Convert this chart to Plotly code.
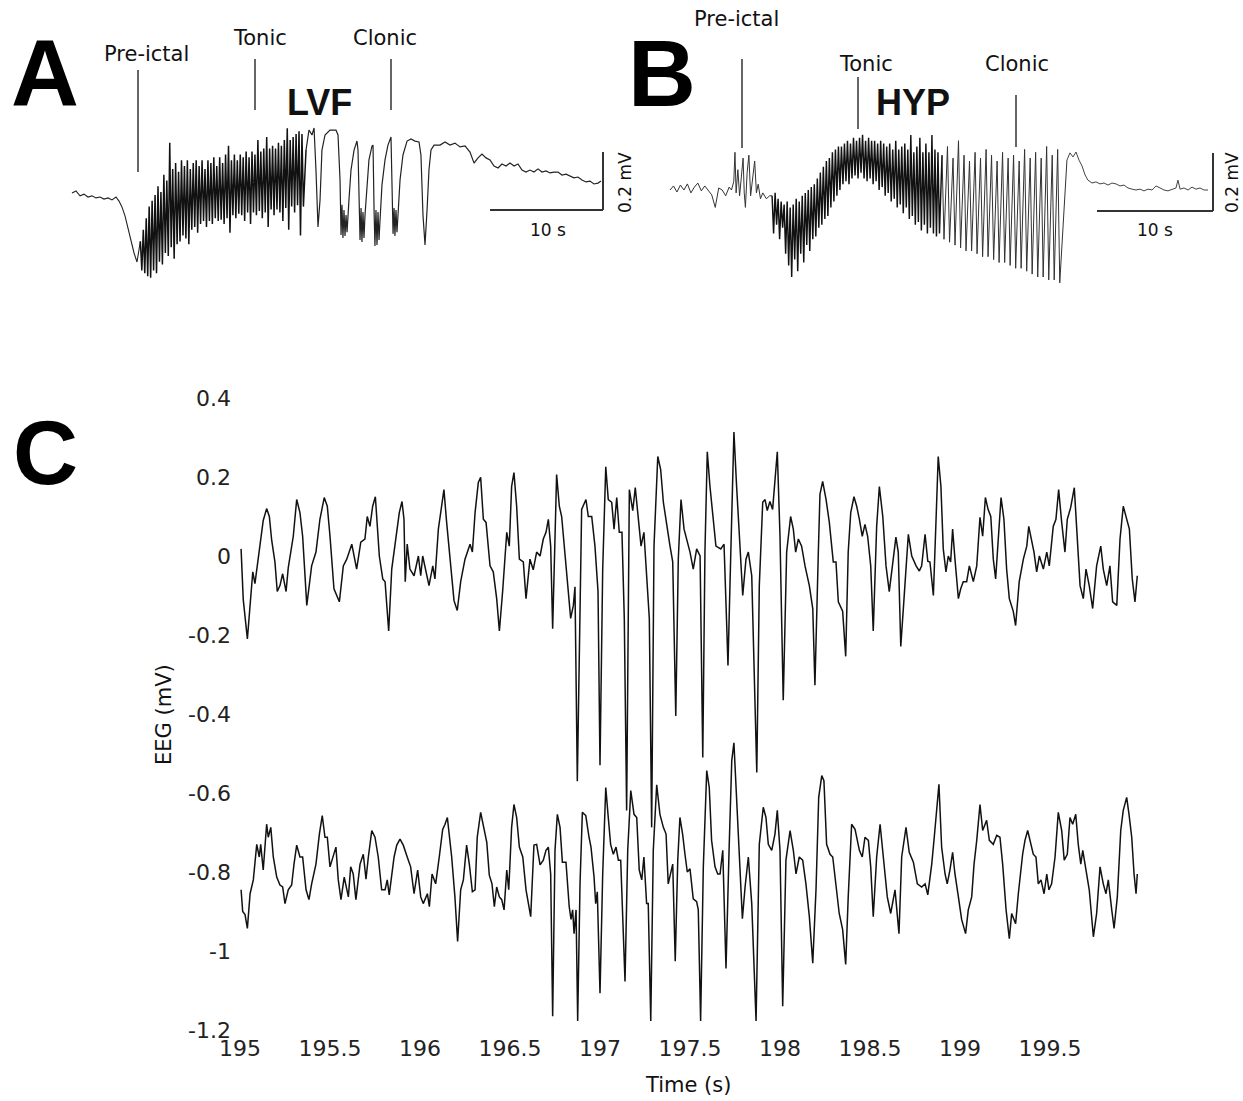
import plotly.graph_objects as go

W, H = 1243, 1101
T0 = 195.0

# ---------------- Panel C : EEG (mV) vs time (s), offsets from 195 s ----------------
top_t = [0.006, 0.018, 0.041, 0.071, 0.083, 0.107, 0.129, 0.148, 0.163, 0.176,
         0.194, 0.207, 0.222, 0.237, 0.256, 0.268, 0.296, 0.315, 0.333, 0.348,
         0.371, 0.398, 0.422, 0.444, 0.468, 0.485, 0.5, 0.522, 0.537, 0.552,
         0.574, 0.593, 0.621, 0.648, 0.671, 0.694, 0.707, 0.722, 0.737, 0.752,
         0.774, 0.793, 0.806, 0.826, 0.843, 0.871, 0.885, 0.9, 0.911, 0.918,
         0.929, 0.944, 0.967, 0.991, 1.004, 1.015, 1.037, 1.05, 1.071, 1.083,
         1.102, 1.121, 1.133, 1.148, 1.167, 1.189, 1.207, 1.226, 1.25, 1.278,
         1.291, 1.306, 1.324, 1.337, 1.352, 1.367, 1.389, 1.407, 1.426, 1.441,
         1.459, 1.482, 1.496, 1.509, 1.522, 1.537, 1.552, 1.574, 1.589, 1.611,
         1.629, 1.648, 1.667, 1.685, 1.7, 1.713, 1.726, 1.737, 1.759, 1.774,
         1.787, 1.802, 1.818, 1.837, 1.852, 1.861, 1.874, 1.898, 1.922, 1.935,
         1.954, 1.972, 1.989, 2.0, 2.015, 2.032, 2.046, 2.065, 2.078, 2.093,
         2.107, 2.122, 2.135, 2.148, 2.163, 2.182, 2.196, 2.213, 2.228, 2.244,
         2.259, 2.274, 2.287, 2.3, 2.321, 2.337, 2.352, 2.371, 2.389, 2.404,
         2.421, 2.435, 2.45, 2.467, 2.482, 2.5, 2.518, 2.537, 2.556, 2.571,
         2.583, 2.596, 2.611, 2.626, 2.644, 2.671, 2.689, 2.704, 2.711, 2.722,
         2.744, 2.759, 2.778, 2.793, 2.811, 2.824, 2.843, 2.856, 2.871, 2.885,
         2.904, 2.917, 2.929, 2.944, 2.959, 2.985, 3.0, 3.009, 3.018, 3.037,
         3.059, 3.074, 3.087, 3.102, 3.12, 3.139, 3.163, 3.182, 3.194, 3.213,
         3.222, 3.237, 3.256, 3.274, 3.296, 3.311, 3.324, 3.348, 3.365, 3.379,
         3.393, 3.411, 3.426, 3.441, 3.457, 3.472, 3.487, 3.504, 3.518, 3.537,
         3.552, 3.571, 3.589, 3.607, 3.62, 3.644, 3.657, 3.671, 3.689, 3.713,
         3.732, 3.756, 3.774, 3.787, 3.806, 3.821, 3.833, 3.852, 3.867, 3.879,
         3.894, 3.907, 3.922, 3.935, 3.948, 3.959, 3.972, 3.991, 4.004, 4.018,
         4.037, 4.052, 4.074, 4.093, 4.111, 4.126, 4.141, 4.156, 4.171, 4.185,
         4.198, 4.213, 4.228, 4.244, 4.259, 4.274, 4.296, 4.309, 4.329, 4.352,
         4.371, 4.382, 4.398, 4.411, 4.426, 4.441, 4.463, 4.482, 4.496, 4.518,
         4.533, 4.548, 4.565, 4.583, 4.596, 4.615, 4.635, 4.652, 4.667, 4.685,
         4.7, 4.718, 4.737, 4.759, 4.782, 4.796, 4.815, 4.833, 4.848, 4.871,
         4.889, 4.907, 4.926, 4.941, 4.957, 4.972, 4.985]
top_v = [0.018, -0.11, -0.21, -0.04, -0.07, 0.02, 0.09, 0.12, 0.10, 0.04,
         -0.015, -0.09, -0.075, -0.045, -0.09, -0.03, 0.05, 0.143, 0.11, 0.05,
         -0.125, -0.025, 0.01, 0.093, 0.148, 0.126, 0.05, -0.083, -0.1, -0.116,
         -0.025, -0.008, 0.03, -0.033, 0.035, 0.043, 0.10, 0.075, 0.126, 0.15,
         0.0, -0.058, -0.065, -0.19, -0.033, 0.068, 0.11, 0.138, 0.093, -0.065,
         0.03, -0.033, -0.05, 0.0, -0.05, 0.0, -0.05, -0.075, -0.025, -0.058,
         0.068, 0.126, 0.168, 0.085, -0.015, -0.113, -0.138, -0.065, -0.008, 0.03,
         0.01, 0.11, 0.186, 0.199, 0.093, 0.085, -0.025, -0.04, -0.108, -0.19,
         -0.09, 0.06, 0.025, 0.176, 0.211, 0.126, -0.008, -0.015, -0.108, -0.008,
         -0.035, 0.01, 0.0, 0.043, 0.06, 0.093, 0.025, -0.184, 0.206, 0.126,
         0.1, 0.018, -0.05, -0.158, -0.125, -0.078, -0.57, 0.118, 0.143, 0.10,
         0.10, 0.025, -0.09, -0.53, -0.033, 0.226, 0.143, 0.136, 0.068, 0.148,
         0.06, 0.06, -0.158, -0.644, 0.168, 0.115, 0.173, 0.093, 0.025, 0.06,
         -0.05, -0.158, -0.687, 0.025, 0.252, 0.219, 0.136, 0.075, 0.025, -0.015,
         -0.405, -0.008, 0.143, 0.068, 0.043, 0.01, -0.033, 0.018, 0.0, -0.51,
         0.01, 0.264, 0.176, 0.1, 0.025, 0.018, 0.03, -0.176, -0.277, -0.075,
         0.314, 0.176, 0.025, -0.1, -0.008, 0.01, -0.05, -0.284, -0.548, -0.075,
         0.136, 0.143, 0.115, 0.138, 0.118, 0.264, 0.05, -0.158, -0.365, 0.01,
         0.1, 0.068, 0.01, 0.043, 0.025, -0.025, -0.075, -0.133, -0.327, 0.01,
         0.156, 0.189, 0.143, 0.085, -0.015, -0.015, -0.116, -0.14, -0.254, 0.01,
         0.11, 0.15, 0.126, 0.093, 0.05, 0.08, 0.05, -0.025, -0.19, 0.075,
         0.176, 0.1, -0.025, -0.09, -0.04, 0.048, 0.01, -0.229, -0.108, 0.055,
         0.0, -0.025, -0.038, -0.025, 0.055, -0.013, -0.015, -0.1, 0.093, 0.252,
         0.176, 0.018, -0.04, 0.0, -0.015, 0.068, -0.008, -0.108, -0.083, -0.065,
         -0.065, -0.025, -0.065, -0.025, 0.098, 0.05, 0.148, 0.118, 0.1, -0.008,
         -0.058, 0.06, 0.148, 0.093, -0.033, -0.108, -0.14, -0.176, -0.065, -0.008,
         0.025, 0.075, 0.035, 0.01, -0.04, 0.0, -0.033, 0.01, -0.025, 0.075,
         0.093, 0.168, 0.085, 0.01, 0.093, 0.123, 0.173, 0.035, -0.075, -0.108,
         -0.033, -0.075, -0.133, -0.025, 0.025, -0.033, -0.075, -0.025, -0.116, -0.125,
         0.043, 0.126, 0.093, 0.068, -0.058, -0.116, -0.05]

bot_t = [0.006, 0.015, 0.028, 0.041, 0.056, 0.074, 0.093, 0.107, 0.115, 0.129,
         0.148, 0.157, 0.171, 0.185, 0.204, 0.222, 0.237, 0.25, 0.268, 0.287,
         0.3, 0.315, 0.333, 0.348, 0.367, 0.383, 0.398, 0.422, 0.441, 0.457,
         0.472, 0.485, 0.5, 0.518, 0.533, 0.546, 0.561, 0.579, 0.602, 0.615,
         0.629, 0.644, 0.667, 0.685, 0.7, 0.713, 0.732, 0.75, 0.768, 0.787,
         0.806, 0.818, 0.829, 0.856, 0.871, 0.889, 0.907, 0.929, 0.948, 0.967,
         0.987, 1.004, 1.018, 1.041, 1.052, 1.067, 1.087, 1.107, 1.126, 1.139,
         1.152, 1.176, 1.194, 1.209, 1.226, 1.241, 1.259, 1.274, 1.291, 1.306,
         1.318, 1.337, 1.356, 1.371, 1.385, 1.4, 1.413, 1.426, 1.441, 1.454,
         1.467, 1.482, 1.493, 1.509, 1.522, 1.537, 1.552, 1.571, 1.589, 1.602,
         1.615, 1.633, 1.648, 1.667, 1.685, 1.7, 1.713, 1.726, 1.737, 1.75,
         1.763, 1.778, 1.791, 1.811, 1.829, 1.839, 1.848, 1.856, 1.867, 1.876,
         1.889, 1.902, 1.921, 1.939, 1.95, 1.967, 1.976, 1.985, 2.0, 2.015,
         2.032, 2.046, 2.059, 2.074, 2.089, 2.102, 2.115, 2.139, 2.154, 2.171,
         2.189, 2.204, 2.218, 2.232, 2.244, 2.259, 2.268, 2.282, 2.296, 2.315,
         2.333, 2.352, 2.367, 2.379, 2.393, 2.404, 2.418, 2.432, 2.444, 2.459,
         2.472, 2.485, 2.5, 2.518, 2.537, 2.546, 2.559, 2.574, 2.593, 2.607,
         2.62, 2.639, 2.654, 2.667, 2.682, 2.7, 2.717, 2.732, 2.744, 2.759,
         2.774, 2.791, 2.806, 2.824, 2.843, 2.856, 2.867, 2.885, 2.907, 2.922,
         2.935, 2.954, 2.972, 2.985, 3.0, 3.015, 3.033, 3.056, 3.074, 3.089,
         3.107, 3.126, 3.144, 3.163, 3.182, 3.2, 3.215, 3.232, 3.244, 3.259,
         3.278, 3.293, 3.311, 3.329, 3.348, 3.365, 3.379, 3.398, 3.417, 3.441,
         3.457, 3.472, 3.491, 3.504, 3.518, 3.537, 3.556, 3.574, 3.596, 3.615,
         3.639, 3.661, 3.676, 3.7, 3.718, 3.741, 3.763, 3.787, 3.806, 3.821,
         3.843, 3.857, 3.874, 3.883, 3.898, 3.917, 3.929, 3.944, 3.959, 3.972,
         3.991, 4.009, 4.031, 4.046, 4.065, 4.078, 4.093, 4.111, 4.126, 4.148,
         4.163, 4.185, 4.204, 4.222, 4.237, 4.256, 4.274, 4.287, 4.309, 4.324,
         4.348, 4.361, 4.376, 4.389, 4.407, 4.422, 4.435, 4.45, 4.467, 4.482,
         4.494, 4.509, 4.528, 4.546, 4.565, 4.579, 4.596, 4.611, 4.626, 4.643,
         4.657, 4.671, 4.682, 4.7, 4.718, 4.741, 4.759, 4.778, 4.796, 4.811,
         4.824, 4.843, 4.856, 4.874, 4.893, 4.907, 4.926, 4.939, 4.954, 4.967,
         4.978, 4.985]
bot_v = [-0.845, -0.90, -0.908, -0.943, -0.855, -0.82, -0.73, -0.762, -0.73, -0.795,
         -0.679, -0.712, -0.687, -0.762, -0.813, -0.833, -0.838, -0.88, -0.845, -0.833,
         -0.78, -0.732, -0.762, -0.762, -0.845, -0.87, -0.83, -0.78, -0.704, -0.657,
         -0.712, -0.712, -0.787, -0.762, -0.737, -0.82, -0.87, -0.813, -0.863, -0.787,
         -0.805, -0.87, -0.78, -0.755, -0.818, -0.762, -0.695, -0.712, -0.762, -0.845,
         -0.845, -0.82, -0.858, -0.762, -0.732, -0.717, -0.732, -0.762, -0.787, -0.855,
         -0.795, -0.863, -0.88, -0.855, -0.888, -0.805, -0.83, -0.762, -0.692, -0.679,
         -0.662, -0.762, -0.863, -0.976, -0.845, -0.82, -0.732, -0.78, -0.85, -0.845,
         -0.712, -0.649, -0.695, -0.725, -0.808, -0.83, -0.888, -0.838, -0.863, -0.87,
         -0.896, -0.795, -0.845, -0.687, -0.629, -0.662, -0.737, -0.762, -0.845, -0.88,
         -0.913, -0.732, -0.73, -0.782, -0.77, -0.745, -0.737, -0.805, -1.165, -0.745,
         -0.654, -0.687, -0.775, -0.775, -0.888, -0.92, -0.896, -0.956, -0.896, -1.177,
         -0.83, -0.649, -0.657, -0.712, -0.737, -0.813, -0.88, -0.85, -1.107, -0.805,
         -0.586, -0.662, -0.73, -0.755, -0.737, -0.77, -0.77, -1.077, -0.745, -0.594,
         -0.654, -0.662, -0.795, -0.82, -0.762, -0.88, -0.88, -1.177, -0.745, -0.579,
         -0.654, -0.687, -0.704, -0.83, -0.805, -0.78, -1.026, -0.77, -0.662, -0.704,
         -0.755, -0.8, -0.792, -0.868, -0.875, -0.896, -1.177, -0.787, -0.543, -0.586,
         -0.72, -0.787, -0.805, -0.805, -0.745, -1.044, -0.745, -0.518, -0.473, -0.619,
         -0.77, -0.918, -0.838, -0.762, -0.88, -1.064, -1.177, -0.73, -0.636, -0.662,
         -0.73, -0.745, -0.704, -0.644, -0.745, -1.14, -0.77, -0.695, -0.745, -0.805,
         -0.762, -0.77, -0.83, -0.913, -1.031, -0.845, -0.611, -0.556, -0.569, -0.73,
         -0.755, -0.762, -0.83, -0.905, -0.946, -1.034, -0.863, -0.679, -0.692, -0.745,
         -0.762, -0.712, -0.72, -0.787, -0.913, -0.762, -0.679, -0.762, -0.863, -0.905,
         -0.845, -0.956, -0.762, -0.687, -0.75, -0.775, -0.83, -0.838, -0.83, -0.858,
         -0.78, -0.712, -0.611, -0.578, -0.737, -0.805, -0.83, -0.795, -0.75, -0.805,
         -0.863, -0.92, -0.956, -0.896, -0.863, -0.78, -0.72, -0.629, -0.695, -0.669,
         -0.72, -0.73, -0.707, -0.712, -0.78, -0.896, -0.969, -0.905, -0.931, -0.855,
         -0.755, -0.72, -0.695, -0.72, -0.755, -0.762, -0.83, -0.82, -0.855, -0.805,
         -0.845, -0.83, -0.762, -0.649, -0.695, -0.77, -0.755, -0.662, -0.679, -0.654,
         -0.73, -0.78, -0.745, -0.795, -0.845, -0.964, -0.905, -0.787, -0.83, -0.855,
         -0.82, -0.896, -0.943, -0.863, -0.695, -0.644, -0.611, -0.654, -0.712, -0.805,
         -0.855, -0.805]

c_xticks = [195, 195.5, 196, 196.5, 197, 197.5, 198, 198.5, 199, 199.5]
c_xticklabels = ["195", "195.5", "196", "196.5", "197", "197.5", "198", "198.5", "199", "199.5"]
c_yticks = [-1.2, -1.0, -0.8, -0.6, -0.4, -0.2, 0.0, 0.2, 0.4]
c_yticklabels = ["-1.2", "-1", "-0.8", "-0.6", "-0.4", "-0.2", "0", "0.2", "0.4"]

# ---------------- Panel A (LVF) : time (s) from trace start, mV ----------------
a_pre_t = [0, 0.35, 0.71, 1.06, 1.42, 1.77, 2.12, 2.48, 2.83, 3.19, 3.54, 3.89, 4.16,
           4.42, 4.69, 4.96, 5.22, 5.49, 5.75]
a_pre_v = [0.007, 0.014, -0.003, 0.003, -0.007, -0.003, -0.01, -0.007, -0.014, -0.01,
           -0.017, -0.007, -0.021, -0.041, -0.072, -0.114, -0.162, -0.2, -0.231]
a_ton_t = [6.05, 6.18, 6.31, 6.44, 6.57, 6.70, 6.83, 6.96, 7.09, 7.22,
           7.35, 7.48, 7.61, 7.74, 7.87, 8.00, 8.13, 8.26, 8.39, 8.52,
           8.65, 8.78, 8.91, 9.04, 9.17, 9.30, 9.43, 9.56, 9.69, 9.82,
           9.95, 10.08, 10.21, 10.34, 10.47, 10.60, 10.73, 10.86, 10.99, 11.12,
           11.25, 11.38, 11.51, 11.64, 11.77, 11.90, 12.03, 12.16, 12.29, 12.42,
           12.55, 12.68, 12.81, 12.94, 13.07, 13.20, 13.33, 13.46, 13.59, 13.72,
           13.85, 13.98, 14.11, 14.24, 14.37, 14.50, 14.63, 14.76, 14.89, 15.02,
           15.15, 15.28, 15.41, 15.54, 15.67, 15.80, 15.93, 16.06, 16.19, 16.32,
           16.45, 16.58, 16.71, 16.84, 16.97, 17.10, 17.23, 17.36, 17.49, 17.62,
           17.75, 17.88, 18.01, 18.14, 18.27, 18.40, 18.53, 18.66, 18.79, 18.92,
           19.05, 19.18, 19.31, 19.44, 19.57, 19.70, 19.83, 19.96, 20.09, 20.22,
           20.35, 20.48]
a_ton_v = [-0.16, -0.26, -0.12, -0.27, -0.08, -0.28, -0.04, -0.285, -0.02, -0.26,
           0.00, -0.27, 0.03, -0.23, 0.01, -0.24, 0.07, -0.20, 0.05, -0.21,
           0.18, -0.18, 0.09, -0.22, 0.11, -0.17, 0.08, -0.16, 0.12, -0.14,
           0.10, -0.15, 0.12, -0.17, 0.09, -0.12, 0.11, -0.11, 0.12, -0.13,
           0.10, -0.10, 0.12, -0.09, 0.09, -0.11, 0.12, -0.09, 0.11, -0.10,
           0.13, -0.08, 0.10, -0.09, 0.13, -0.085, 0.11, -0.10, 0.14, -0.08,
           0.17, -0.13, 0.12, -0.07, 0.14, -0.08, 0.12, -0.065, 0.14, -0.07,
           0.13, -0.09, 0.15, -0.06, 0.13, -0.10, 0.15, -0.06, 0.14, -0.07,
           0.19, -0.055, 0.15, -0.08, 0.16, -0.06, 0.20, -0.11, 0.16, -0.05,
           0.17, -0.07, 0.16, -0.05, 0.18, -0.06, 0.17, -0.09, 0.19, -0.045,
           0.23, -0.12, 0.19, -0.04, 0.20, -0.06, 0.21, -0.035, 0.22, -0.14,
           0.21, -0.04]
a_cl_t = [20.71, 20.97, 21.24, 21.42, 21.59, 21.77, 21.95, 22.12, 22.39, 22.83,
          23.36, 23.54, 23.72, 23.81, 23.89, 23.98, 24.07, 24.16, 24.25, 24.34,
          24.51, 24.69, 24.96, 25.22, 25.31, 25.4, 25.49, 25.58, 25.66, 25.75,
          25.84, 25.93, 26.11, 26.28, 26.55, 26.64, 26.73, 26.81, 26.9, 26.99,
          27.08, 27.17, 27.26, 27.43, 27.7, 27.96, 28.23, 28.32, 28.41, 28.5,
          28.58, 28.67, 28.76, 28.85, 29.03, 29.29, 29.65, 30.0, 30.35, 30.71,
          30.88, 31.06, 31.24, 31.42, 31.59, 31.77, 32.04, 32.57, 33.01, 33.45,
          33.89, 34.34, 34.78, 35.22, 35.58, 35.93, 36.28, 36.64, 36.99, 37.35,
          37.7, 38.05, 38.41, 38.76, 39.12, 39.47, 39.82, 40.18, 40.53, 40.88,
          41.24, 41.59, 41.95, 42.3, 42.65, 43.01, 43.36, 43.72, 44.07, 44.42,
          44.78, 45.13, 45.49, 45.84, 46.19, 46.55, 46.81]
a_cl_v = [0.155, 0.224, 0.207, 0.231, 0.086, -0.11, -0.017, 0.155, 0.207, 0.224,
          0.224, 0.207, 0.052, -0.138, -0.034, -0.148, -0.052, -0.141, -0.069, -0.128,
          -0.017, 0.086, 0.155, 0.186, 0.155, -0.034, -0.155, -0.045, -0.162, -0.059,
          -0.148, -0.069, 0.034, 0.121, 0.169, 0.172, -0.052, -0.176, -0.052, -0.172,
          -0.059, -0.155, -0.086, 0.034, 0.121, 0.172, 0.2, -0.034, -0.134, -0.045,
          -0.141, -0.052, -0.128, -0.069, 0.052, 0.138, 0.186, 0.193, 0.186, 0.183,
          0.138, -0.069, -0.172, -0.052, 0.086, 0.155, 0.172, 0.172, 0.183, 0.172,
          0.179, 0.166, 0.169, 0.148, 0.11, 0.128, 0.141, 0.128, 0.121, 0.1,
          0.093, 0.107, 0.1, 0.11, 0.1, 0.107, 0.086, 0.079, 0.086, 0.079,
          0.09, 0.079, 0.083, 0.076, 0.079, 0.079, 0.069, 0.072, 0.066, 0.059,
          0.062, 0.052, 0.045, 0.048, 0.038, 0.041, 0.048]

# ---------------- Panel B (HYP) ----------------
b_pre_t = [0, 0.3, 0.6, 0.9, 1.2, 1.5, 1.8, 2.1, 2.4, 2.7, 3.0, 3.3, 3.6, 3.9, 4.2, 4.5,
           4.8, 5.1, 5.3, 5.5, 5.6, 5.7, 5.85, 6.0, 6.15, 6.3, 6.4, 6.5, 6.65, 6.8, 6.95,
           7.1, 7.3, 7.45, 7.6, 7.8, 8.0, 8.3, 8.6]
b_pre_v = [0.0, 0.014, -0.007, 0.017, 0.0, 0.021, -0.01, 0.01, 0.024, -0.003, 0.014, 0.0,
           -0.017, -0.06, 0.007, 0.0, -0.02, 0.01, 0.0, 0.03, 0.13, -0.01, 0.07, -0.02,
           0.05, 0.11, -0.01, -0.06, 0.06, 0.12, -0.02, 0.04, 0.10, -0.01, 0.02, -0.03,
           -0.01, -0.03, -0.02]
b_ton_t = [8.80, 8.93, 9.06, 9.19, 9.32, 9.45, 9.58, 9.71, 9.84, 9.97,
           10.10, 10.23, 10.36, 10.49, 10.62, 10.75, 10.88, 11.01, 11.14, 11.27,
           11.40, 11.53, 11.66, 11.79, 11.92, 12.05, 12.18, 12.31, 12.44, 12.57,
           12.70, 12.83, 12.96, 13.09, 13.22, 13.35, 13.48, 13.61, 13.74, 13.87,
           14.00, 14.13, 14.26, 14.39, 14.52, 14.65, 14.78, 14.91, 15.04, 15.17,
           15.30, 15.43, 15.56, 15.69, 15.82, 15.95, 16.08, 16.21, 16.34, 16.47,
           16.60, 16.73, 16.86, 16.99, 17.12, 17.25, 17.38, 17.51, 17.64, 17.77,
           17.90, 18.03, 18.16, 18.29, 18.42, 18.55, 18.68, 18.81, 18.94, 19.07,
           19.20, 19.33, 19.46, 19.59, 19.72, 19.85, 19.98, 20.11, 20.24, 20.37,
           20.50, 20.63, 20.76, 20.89, 21.02, 21.15, 21.28, 21.41, 21.54, 21.67,
           21.80, 21.93, 22.06, 22.19, 22.32, 22.45, 22.58, 22.71, 22.84, 22.97,
           23.10, 23.23]
b_ton_v = [-0.02, -0.15, -0.01, -0.12, -0.03, -0.17, -0.04, -0.13, -0.05, -0.22,
           -0.04, -0.26, -0.06, -0.30, -0.05, -0.24, -0.03, -0.28, -0.04, -0.22,
           -0.02, -0.25, -0.01, -0.19, 0.00, -0.21, 0.01, -0.17, 0.02, -0.16,
           0.04, -0.13, 0.06, -0.12, 0.08, -0.10, 0.10, -0.09, 0.11, -0.06,
           0.13, -0.04, 0.14, -0.02, 0.15, 0.00, 0.15, 0.02, 0.16, 0.03,
           0.17, 0.02, 0.16, 0.04, 0.18, 0.05, 0.17, 0.04, 0.18, 0.06,
           0.19, 0.04, 0.17, 0.03, 0.18, 0.04, 0.17, 0.02, 0.17, 0.03,
           0.16, 0.00, 0.17, 0.01, 0.16, -0.02, 0.15, -0.01, 0.16, -0.04,
           0.14, -0.03, 0.17, -0.06, 0.14, -0.05, 0.15, -0.08, 0.16, -0.06,
           0.14, -0.10, 0.19, -0.09, 0.13, -0.12, 0.15, -0.11, 0.18, -0.14,
           0.13, -0.12, 0.16, -0.15, 0.13, -0.13, 0.19, -0.15, 0.14, -0.16,
           0.13, -0.15]
b_cl_t = [23.45, 23.62, 23.92, 24.10, 24.40, 24.57, 24.87, 25.05, 25.35, 25.52,
          25.82, 26.00, 26.30, 26.47, 26.77, 26.95, 27.25, 27.42, 27.72, 27.90,
          28.20, 28.37, 28.67, 28.85, 29.15, 29.32, 29.62, 29.80, 30.10, 30.27,
          30.57, 30.75, 31.05, 31.22, 31.52, 31.70, 32.00, 32.17, 32.47, 32.65,
          32.95, 33.12, 33.42, 33.60]
b_cl_v = [0.12, -0.17, 0.15, -0.18, 0.11, -0.19, 0.17, -0.20, 0.12, -0.21,
          0.10, -0.21, 0.13, -0.22, 0.11, -0.23, 0.14, -0.23, 0.12, -0.24,
          0.10, -0.25, 0.13, -0.25, 0.11, -0.26, 0.12, -0.27, 0.10, -0.27,
          0.14, -0.28, 0.11, -0.29, 0.13, -0.30, 0.11, -0.30, 0.15, -0.31,
          0.12, -0.31, 0.14, -0.32]
b_tail_t = [34.22, 34.48, 34.74, 35.0, 35.26, 35.52, 35.78, 36.03, 36.38, 36.72,
            37.07, 37.41, 37.76, 38.1, 38.45, 38.79, 39.14, 39.48, 39.83, 40.17,
            40.52, 40.86, 41.21, 41.55, 41.9, 42.24, 42.59, 42.93, 43.28, 43.62,
            43.79, 43.97, 44.31, 44.66, 45.0, 45.34, 45.69, 46.03, 46.38]
b_tail_v = [0.103, 0.128, 0.114, 0.131, 0.103, 0.083, 0.052, 0.034, 0.024, 0.028,
            0.021, 0.024, 0.017, 0.024, 0.021, 0.014, 0.017, 0.007, 0.003, 0.0,
            0.003, -0.003, 0.003, 0.0, 0.014, 0.007, 0.0, -0.003, 0.003, 0.007,
            0.034, 0.003, 0.007, 0.0, 0.01, 0.003, 0.007, 0.0, 0.0]

# scale bars (10 s, 0.2 mV)
bar_s = 10.0
bar_mv = 0.2

# ---------------- layout helpers ----------------
def px(x):
    return x / W

def py(y):
    return 1 - y / H

FONT = "Liberation Sans, Arial, Helvetica, sans-serif"
WIDE = "DejaVu Sans, Verdana, sans-serif"

fig = go.Figure()

def line(xs, ys, ax, width, color="#111111"):
    fig.add_trace(go.Scatter(x=xs, y=ys, mode="lines", line=dict(color=color, width=width),
                             xaxis="x" + ax, yaxis="y" + ax, showlegend=False,
                             hoverinfo="skip"))

line([T0 + t for t in top_t], top_v, "", 1.5)
line([T0 + t for t in bot_t], bot_v, "", 1.5)

# Panel A: thin baseline / tail, heavy ink in the tonic mass and clonic bursts
line(a_pre_t + a_ton_t[:1], a_pre_v + a_ton_v[:1], "2", 1.1, "#222222")
line(a_ton_t + a_cl_t[:1], a_ton_v + a_cl_v[:1], "2", 1.5, "#111111")
line(a_cl_t, a_cl_v, "2", 1.2, "#222222")

line(b_pre_t + b_ton_t[:1], b_pre_v + b_ton_v[:1], "3", 1.0, "#333333")
line(b_ton_t + b_cl_t[:1], b_ton_v + b_cl_v[:1], "3", 1.45, "#111111")
line(b_cl_t + b_tail_t[:1], b_cl_v + b_tail_v[:1], "3", 1.0, "#333333")
line(b_tail_t, b_tail_v, "3", 1.0, "#444444")

# Panel A axes: t=0 at px 72, 11.3 px/s; v=0 at py 195, 290 px/mV
a_xr = [(60 - 72) / 11.3, (620 - 72) / 11.3]
a_yr = [(195 - 290) / 290.0, (195 - 120) / 290.0]
# Panel B axes: t=0 at px 670, 11.6 px/s; v=0 at py 190, 290 px/mV
b_xr = [(640 - 670) / 11.6, (1243 - 670) / 11.6]
b_yr = [(190 - 290) / 290.0, (190 - 120) / 290.0]

hidden = dict(visible=False, showgrid=False, zeroline=False, fixedrange=True,
              automargin=False)

fig.update_layout(
    width=W, height=H, autosize=False,
    margin=dict(l=0, r=0, t=0, b=0, pad=0),
    paper_bgcolor="white", plot_bgcolor="white",
    font=dict(family=FONT, color="#222222"),
    xaxis=dict(domain=[px(240), px(1140)], range=[195, 200], anchor="y",
               tickvals=c_xticks, ticktext=c_xticklabels, ticks="",
               showgrid=False, zeroline=False, showline=False, automargin=False,
               tickfont=dict(size=22, color="#222222", family=WIDE),
               ticklabelstandoff=3),
    yaxis=dict(domain=[py(1030), py(398)], range=[-1.2, 0.4], anchor="x",
               tickvals=c_yticks, ticktext=c_yticklabels, ticks="",
               showgrid=False, zeroline=False, showline=False, automargin=False,
               tickfont=dict(size=22, color="#222222", family=WIDE),
               ticklabelstandoff=8),
    xaxis2=dict(domain=[px(60), px(620)], range=a_xr, anchor="y2", **hidden),
    yaxis2=dict(domain=[py(290), py(120)], range=a_yr, anchor="x2", **hidden),
    xaxis3=dict(domain=[px(640), px(1243)], range=b_xr, anchor="y3", **hidden),
    yaxis3=dict(domain=[py(290), py(120)], range=b_yr, anchor="x3", **hidden),
)

shapes = []
a_bar_t0 = (490 - 72) / 11.3
a_bar_v0 = (195 - 210) / 290.0
shapes.append(dict(type="line", xref="x2", yref="y2", x0=a_bar_t0, x1=a_bar_t0 + bar_s,
                   y0=a_bar_v0, y1=a_bar_v0, line=dict(color="#333", width=2)))
shapes.append(dict(type="line", xref="x2", yref="y2", x0=a_bar_t0 + bar_s, x1=a_bar_t0 + bar_s,
                   y0=a_bar_v0, y1=a_bar_v0 + bar_mv, line=dict(color="#333", width=2)))
b_bar_t0 = (1097 - 670) / 11.6
b_bar_v0 = (190 - 211) / 290.0
shapes.append(dict(type="line", xref="x3", yref="y3", x0=b_bar_t0, x1=b_bar_t0 + bar_s,
                   y0=b_bar_v0, y1=b_bar_v0, line=dict(color="#333", width=2)))
shapes.append(dict(type="line", xref="x3", yref="y3", x0=b_bar_t0 + bar_s, x1=b_bar_t0 + bar_s,
                   y0=b_bar_v0, y1=b_bar_v0 + bar_mv, line=dict(color="#333", width=2)))

for (x, y0, y1) in [(138, 70, 172), (255, 59, 110), (391, 59, 110),
                    (742, 59, 148), (858, 77, 129), (1016, 95, 147)]:
    shapes.append(dict(type="line", xref="paper", yref="paper", x0=px(x), x1=px(x),
                       y0=py(y0), y1=py(y1), line=dict(color="#333", width=1.5)))
fig.update_layout(shapes=shapes)

ann = []
def text(x, y, s, size, bold=False, angle=0, family=WIDE, color="#111111"):
    ann.append(dict(x=px(x), y=py(y), xref="paper", yref="paper",
                    text=("<b>%s</b>" % s) if bold else s,
                    showarrow=False, xanchor="center", yanchor="middle", textangle=angle,
                    font=dict(size=size, family=family, color=color)))

text(45, 74, "A", 94, bold=True, family=FONT, color="black")
text(662, 74, "B", 94, bold=True, family=FONT, color="black")
text(45, 453, "C", 90, bold=True, family=FONT, color="black")
text(146, 54, "Pre-ictal", 21)
text(260, 38, "Tonic", 21)
text(385, 38, "Clonic", 21)
text(319, 103, "LVF", 36, bold=True, family=FONT)
text(736, 19, "Pre-ictal", 21)
text(866, 64, "Tonic", 21)
text(1017, 64, "Clonic", 21)
text(913, 103, "HYP", 36, bold=True, family=FONT)
text(548, 230, "10 s", 17)
text(1155, 230, "10 s", 17)
text(625, 183, "0.2 mV", 17, angle=-90)
text(1232, 183, "0.2 mV", 17, angle=-90)
text(164, 715, "EEG (mV)", 21, angle=-90)
text(688, 1085, "Time (s)", 21)
fig.update_layout(annotations=ann)

fig.write_html("out.html")
